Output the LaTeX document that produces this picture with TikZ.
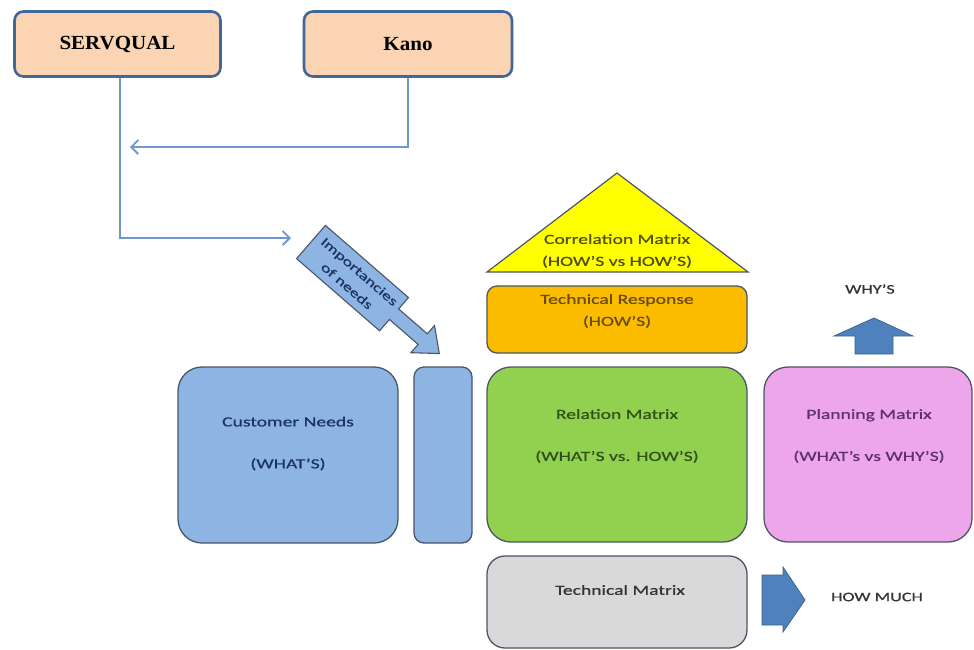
\documentclass[tikz,border=0pt]{standalone}
\usepackage{fontspec}
\newfontfamily\lblfont[FakeStretch=1.4, FakeBold=0.7]{Carlito}
\newfontfamily\srcfont[FakeStretch=1.05]{Liberation Serif}
\usetikzlibrary{arrows.meta,calc}

\definecolor{peach}{HTML}{FBD4B4}
\definecolor{srcborder}{HTML}{41679A}
\definecolor{connblue}{HTML}{6F97D2}
\definecolor{needblue}{HTML}{8DB4E2}
\definecolor{needtext}{HTML}{1B3461}
\definecolor{boxborder}{HTML}{4A5668}
\definecolor{corryellow}{HTML}{FFFF00}
\definecolor{corrtext}{HTML}{50500C}
\definecolor{resporange}{HTML}{FBBC00}
\definecolor{resptext}{HTML}{6A4C0C}
\definecolor{relgreen}{HTML}{92D050}
\definecolor{reltext}{HTML}{30501A}
\definecolor{planpink}{HTML}{EEA6EA}
\definecolor{plantext}{HTML}{5E3070}
\definecolor{techgray}{HTML}{D9D9D9}
\definecolor{darktext}{HTML}{333333}
\definecolor{arrowblue}{HTML}{4F81BD}
\definecolor{arrowedge}{HTML}{3A6496}

\tikzset{
  srcbox/.style={draw=srcborder, line width=2.6pt, fill=peach, rounded corners=9pt,
    minimum width=206pt, minimum height=65pt,
    font=\srcfont\bfseries\fontsize{20}{22}\selectfont},
  conn/.style={draw=connblue, line width=1.8pt, -{Straight Barb[length=7pt,width=14pt]}},
  matbox/.style={draw=boxborder, line width=1.3pt, inner sep=0pt},
  lbl/.style={font=\lblfont\fontsize{14}{22}\selectfont, align=center, inner sep=0pt},
  blockarrow/.style={fill=arrowblue, draw=arrowedge, line width=0.8pt, line join=miter},
}

\begin{document}
\begin{tikzpicture}[x=1pt,y=-1pt]
\useasboundingbox[fill=white] (0,0) rectangle (974,649);

% source methods
\node[srcbox] (serv) at (117.5,44) {SERVQUAL};
\node[srcbox, minimum width=208pt] (kano) at (408,44) {Kano};

\coordinate (servend) at (291,238);
\coordinate (kanoend) at (130,147);
\draw[conn] ($(serv.south)+(2.5,0)$) |- (servend);
\draw[conn] (kano.south) |- (kanoend);

% importance arrow (callout pointing to the importance column)
\begin{scope}[shift={(311,242)}, rotate=-41]
  \draw[fill=needblue, draw=boxborder, line width=1.1pt, line join=miter]
    (0,-22) -- (110,-22) -- (110,-7) -- (148,-7) -- (148,-18) -- (170,0)
    -- (148,18) -- (148,7) -- (110,7) -- (110,22) -- (0,22) -- cycle;
  \node[lbl, font=\lblfont\fontsize{13}{19}\selectfont, text=needtext, rotate=-41]
    (imptext) at (56,0) {Importancies\\of needs};
\end{scope}

% left wall: customer needs and importance column
\node[matbox, fill=needblue, rounded corners=24pt, minimum width=220pt, minimum height=176pt]
  (needs) at (288,455) {};
\node[lbl, text=needtext] (needstext) at (288,443.5) {Customer Needs\\[20pt](WHAT’S)};
\node[matbox, fill=needblue, rounded corners=10pt, minimum width=58pt, minimum height=176pt]
  (impcol) at (443,455) {};

% roof: correlation matrix
\coordinate (roofL) at (487,272);
\coordinate (roofR) at (748,272);
\coordinate (roofT) at (617,173);
\draw[fill=corryellow, draw=boxborder, line width=1.2pt, line join=miter]
  (roofL) -- (roofT) -- (roofR) -- cycle;
\node[lbl, text=corrtext] (corrtext) at (617,251) {Correlation Matrix\\(HOW’S vs HOW’S)};

% technical response
\node[matbox, fill=resporange, rounded corners=10pt, minimum width=260pt, minimum height=67pt]
  (resp) at (617,319.5) {};
\node[lbl, text=resptext] (resptext) at (617,311) {Technical Response\\(HOW’S)};

% relation matrix
\node[matbox, fill=relgreen, rounded corners=24pt, minimum width=260pt, minimum height=175pt]
  (rel) at (617,454.5) {};
\node[lbl, text=reltext] (reltext) at (617,436) {Relation Matrix\\[20pt](WHAT’S vs. HOW’S)};

% planning matrix
\node[matbox, fill=planpink, rounded corners=24pt, minimum width=208pt, minimum height=175pt]
  (plan) at (868,454.5) {};
\node[lbl, text=plantext] (plantext) at (869,436) {Planning Matrix\\[20pt](WHAT’s vs WHY’S)};

% technical matrix
\node[matbox, fill=techgray, rounded corners=18pt, minimum width=260pt, minimum height=92pt]
  (tech) at (617,602) {};
\node[lbl, text=darktext] (techtext) at (620,590) {Technical Matrix};

% outputs
\node[lbl, font=\lblfont\fontsize{13}{16}\selectfont, text=darktext] (whys) at (870,289) {WHY’S};
\draw[blockarrow] (855,354) -- (855,336) -- (834,336) -- (874,318) -- (913,336)
  -- (893,336) -- (893,354) -- cycle;

\node[lbl, font=\lblfont\fontsize{13}{16}\selectfont, text=darktext] (howmuch) at (877,597) {HOW MUCH};
\draw[blockarrow] (762,575) -- (783,575) -- (783,567) -- (805,600) -- (783,632)
  -- (783,625) -- (762,625) -- cycle;
\end{tikzpicture}
\end{document}
